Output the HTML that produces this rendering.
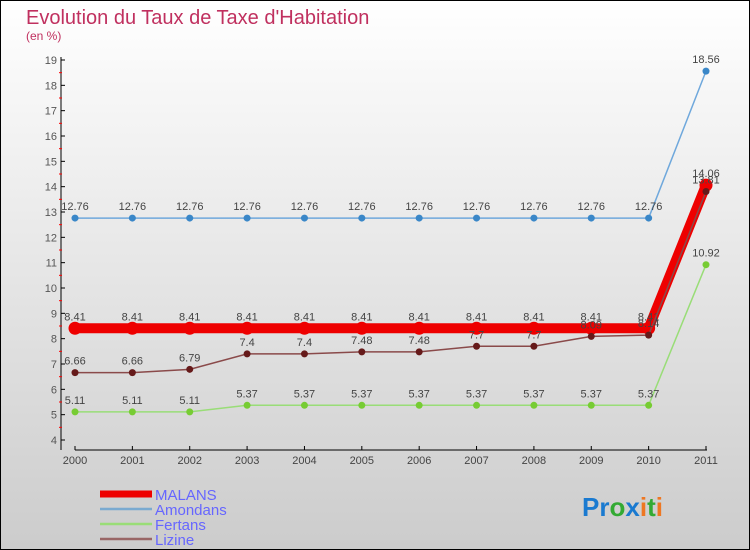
<!DOCTYPE html>
<html><head><meta charset="utf-8"><style>
body{margin:0}
#c{width:750px;height:550px;position:relative;box-sizing:border-box;border:1px solid #000;background:linear-gradient(#fff,#ccc);font-family:"Liberation Sans",sans-serif;overflow:hidden}
</style></head><body>
<div id="c">
<svg id="s" width="750" height="550" style="position:absolute;left:-1px;top:-1px">
<text x="26" y="24" font-size="20" fill="#c0305f">Evolution du Taux de Taxe d'Habitation</text>
<text x="26" y="40" font-size="12" fill="#c0305f">(en %)</text>
</svg>
</div>
<script>
const years=["2000","2001","2002","2003","2004","2005","2006","2007","2008","2009","2010","2011"];
const malans=[8.41,8.41,8.41,8.41,8.41,8.41,8.41,8.41,8.41,8.41,8.41,14.06];
const amondans=[12.76,12.76,12.76,12.76,12.76,12.76,12.76,12.76,12.76,12.76,12.76,18.56];
const fertans=[5.11,5.11,5.11,5.37,5.37,5.37,5.37,5.37,5.37,5.37,5.37,10.92];
const lizine=[6.66,6.66,6.79,7.4,7.4,7.48,7.48,7.7,7.7,8.09,8.14,13.81];
const yTicks=[4,5,6,7,8,9,10,11,12,13,14,15,16,17,18,19];
const NS="http://www.w3.org/2000/svg";
const s=document.getElementById('s');
const X=i=>75+i*(706-75)/11;
const Y=v=>440-(v-4)*(380/15);
function el(t,a,p){const e=document.createElementNS(NS,t);for(const k in a)e.setAttribute(k,a[k]);(p||s).appendChild(e);return e;}
// axes
let ax=el('line',{x1:61,y1:57,x2:61,y2:450,stroke:'#000'});


let bx=el('line',{x1:75,y1:450,x2:707,y2:450,stroke:'#000'});


yTicks.forEach(v=>{
  el('line',{x1:61,y1:Y(v),x2:65,y2:Y(v),stroke:'#000'});
  if(v<19) el('line',{x1:59,y1:Y(v+0.5),x2:62,y2:Y(v+0.5),stroke:'#f00'});
  const t=el('text',{x:57,y:Y(v)+4,'font-size':11,fill:'#555','text-anchor':'end'});t.textContent=v;
  
  
});
years.forEach((y,i)=>{
  el('line',{x1:X(i),y1:446,x2:X(i),y2:450,stroke:'#000'});
  const t=el('text',{x:X(i),y:464,'font-size':11,fill:'#444','text-anchor':'middle'});t.textContent=y;
  
  
});
function series(d,color,w,r,dot,name){
  const g=el('g',{});
  
  
  el('polyline',{points:d.map((v,i)=>X(i)+','+Y(v)).join(' '),fill:'none',stroke:color,'stroke-width':w},g);
  d.forEach((v,i)=>{
    const c=el('circle',{cx:X(i),cy:Y(v),r:r,fill:dot},g);
    
    
    const t=el('text',{x:X(i),y:Y(v)-8,'font-size':11,fill:'#444','text-anchor':'middle'},g);
    t.textContent=String(v);
    
    
  });
}
series(amondans,'#6fa8dc',1.5,3.5,'#3a87c8','amondans');
series(fertans,'#99dd77',1.5,3.5,'#77cc33','fertans');
series(malans,'#ee0000',10,6.5,'#ee0000','malans');
series(lizine,'#8a4a4a',1.5,3.5,'#661a1a','lizine');
// legend
const leg=[['MALANS','#ee0000',7],['Amondans','#7aaad0',2.5],['Fertans','#99dd77',2.5],['Lizine','#996666',2.5]];
leg.forEach((l,i)=>{
  const y=492+i*15;
  const g=el('g',{});
  
  
  el('line',{x1:100,y1:y+2,x2:152,y2:y+2,stroke:l[1],'stroke-width':l[2]},g);
  const t=el('text',{x:155,y:y+8,'font-size':15,fill:'#6666ff'},g);t.textContent=l[0];
});
const px=el('text',{x:582,y:516,'font-size':26,'font-weight':'bold'});


[['Pr','#1a7ad0'],['o','#33aa33'],['x','#1a7ad0'],['i','#ee7722'],['t','#33aa33'],['i','#ee7722']].forEach(p=>{const ts=el('tspan',{fill:p[1]},px);ts.textContent=p[0];});
</script>
</body></html>
